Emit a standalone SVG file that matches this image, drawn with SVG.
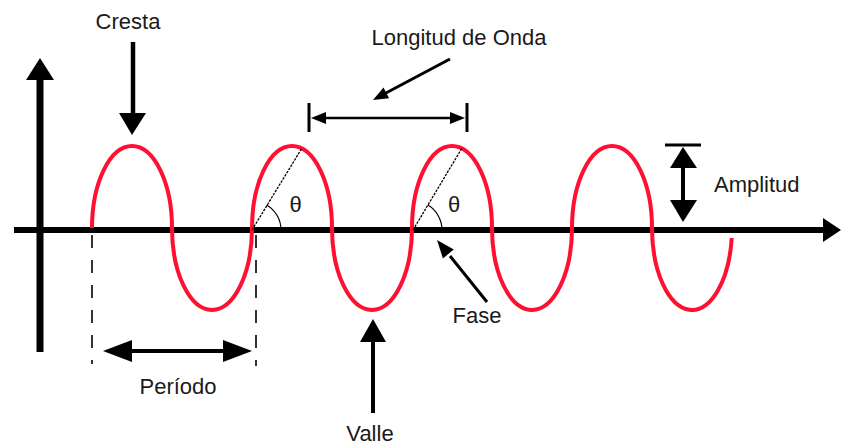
<svg xmlns="http://www.w3.org/2000/svg" width="841" height="446" viewBox="0 0 841 446">
<style>
.lbl{font-family:"Liberation Sans",Arial,sans-serif;font-size:22px;fill:#1a1a1a}
.ln{stroke:#000;fill:none}
.hd{fill:#000;stroke:none}
.dash{stroke:#000;stroke-width:1.6;stroke-dasharray:13 12;fill:none}
.dot{stroke:#000;stroke-width:1.3;stroke-dasharray:2.5 1.2;fill:none}
.arc{stroke:#000;stroke-width:1.2;fill:none}
.wave{stroke:#ff1030;stroke-width:4;fill:none}
</style>
<rect width="841" height="446" fill="#fff"/>
<g id="axes">
<line class="ln" x1="14" y1="230" x2="824" y2="230" stroke-width="6"/>
<polygon class="hd" points="823,218 841,230 823,242"/>
<line class="ln" x1="40" y1="79" x2="40" y2="352" stroke-width="7"/>
<polygon class="hd" points="26,80 40,58 54,80"/>
</g>
<g id="wave">
<path class="wave" d="M92,228 A40,82 0 0 1 172,228 A40,82 0 0 0 252,228 A40,82 0 0 1 332,228 A40,82 0 0 0 412,228 A40,82 0 0 1 492,228 A40,82 0 0 0 572,228 A40,82 0 0 1 652,228 A40,82 0 0 0 731.7,238"/>
</g>
<g id="theta1">
<line class="dot" x1="252" y1="230" x2="302" y2="148"/>
<path class="arc" d="M266.6,204.9 A29,29 0 0 1 281,230"/>
<text class="lbl" x="295.5" y="212" text-anchor="middle">θ</text>
</g>
<g id="theta2">
<line class="dot" x1="413" y1="230" x2="462" y2="148"/>
<path class="arc" d="M427.9,205.1 A29,29 0 0 1 442,230"/>
<text class="lbl" x="454" y="212" text-anchor="middle">θ</text>
</g>
<g id="periodo-marks">
<line class="dash" x1="92" y1="235" x2="92" y2="364"/>
<line class="dash" x1="256" y1="235" x2="256" y2="366"/>
</g>
<g id="connectors">
<!-- Cresta -->
<line class="ln" x1="133" y1="42" x2="133" y2="114" stroke-width="4.5"/>
<polygon class="hd" points="119,113 146,113 132,135"/>
<!-- Longitud de onda -->
<line class="ln" x1="309" y1="103" x2="309" y2="132" stroke-width="3"/>
<line class="ln" x1="467" y1="103" x2="467" y2="132" stroke-width="3"/>
<line class="ln" x1="320" y1="118" x2="456" y2="118" stroke-width="2.5"/>
<polygon class="hd" points="311,118 326,112 326,124"/>
<polygon class="hd" points="465,118 450,112 450,124"/>
<line class="ln" x1="450" y1="59" x2="385" y2="93.5" stroke-width="3"/>
<polygon class="hd" points="373,100 389.1,98.2 383.5,87.6"/>
<!-- Amplitud -->
<line class="ln" x1="665" y1="145" x2="701" y2="145" stroke-width="3"/>
<line class="ln" x1="683" y1="165" x2="683" y2="202" stroke-width="4"/>
<polygon class="hd" points="683,147 670,168 697,168"/>
<polygon class="hd" points="683,222 670,200 697,200"/>
<!-- Periodo -->
<line class="ln" x1="128" y1="351" x2="227" y2="351" stroke-width="4"/>
<polygon class="hd" points="103,351 132,340 132,362"/>
<polygon class="hd" points="252,351 223,340 223,362"/>
<!-- Valle -->
<line class="ln" x1="373" y1="340" x2="373" y2="413" stroke-width="4"/>
<polygon class="hd" points="373,319 360,342 386,342"/>
<!-- Fase -->
<line class="ln" x1="487" y1="302" x2="450" y2="256" stroke-width="3"/>
<polygon class="hd" points="437,240 453.8,249.6 442.9,258.4"/>
</g>
<g id="cresta"><text class="lbl" x="128" y="29" text-anchor="middle">Cresta</text></g>
<g id="longitud"><text class="lbl" x="459" y="45" text-anchor="middle">Longitud de Onda</text></g>
<g id="amplitud"><text class="lbl" x="714" y="192">Amplitud</text></g>
<g id="periodo"><text class="lbl" x="178" y="394" text-anchor="middle">Período</text></g>
<g id="valle"><text class="lbl" x="370" y="441" text-anchor="middle">Valle</text></g>
<g id="fase"><text class="lbl" x="477" y="323" text-anchor="middle">Fase</text></g>
</svg>
